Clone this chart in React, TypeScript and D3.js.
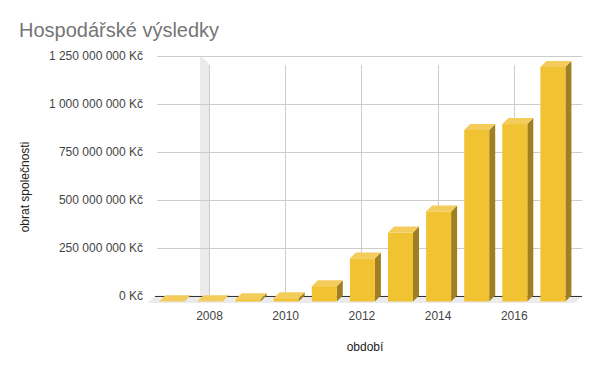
import React from "react";
import * as d3 from "d3";

const years = [2007, 2008, 2009, 2010, 2011, 2012, 2013, 2014, 2015, 2016, 2017];
const revenue = [1e6, 1e6, 12e6, 17e6, 80e6, 225e6, 360e6, 470e6, 895e6, 926e6, 1224e6];
const yTicks = [0, 250e6, 500e6, 750e6, 1000e6, 1250e6];
const xTickYears = [2008, 2010, 2012, 2014, 2016];
const title = "Hospodářské výsledky";
const xTitle = "období";
const yTitle = "obrat společnosti";

const W = 600, H = 371;
const DEPTH = 6;
const BAR_W = 25;
const FONT = "Arial, 'Liberation Sans', sans-serif";

function fmt(v: number) {
  const s = Math.round(v).toString().replace(/\B(?=(\d{3})+(?!\d))/g, " ");
  return s + " Kč";
}

export default function App() {
  const x = d3.scalePoint<number>().domain(years).range([171.9, 552.9]);
  const y = d3.scaleLinear().domain([0, 1.25e9]).range([295.5, 56]);
  const gridX0 = 157, gridX1 = 582;
  const frontBase = y(0) + DEPTH;

  return (
    <svg width={W} height={H} style={{ position: "absolute", left: 0, top: 0, background: "#fff" }}>
      <rect x={0} y={0} width={W} height={H} fill="#fff" />
      <text x={19} y={37} fontFamily={FONT} fontSize={20} fill="#757575">{title}</text>

      {/* floor */}
      <polygon
        points={`${gridX0 - 9},${frontBase + 1.5} ${gridX1 - 7},${frontBase + 1.5} ${gridX1},${y(0)} ${gridX0 - 2},${y(0)}`}
        fill="#ebebeb"
      />
      {/* left wall stripe */}
      <polygon points={`200,57 202,57 209,64 209,${frontBase + 1} 200,${frontBase + 1}`} fill="#ebebeb" />

      {/* horizontal gridlines */}
      {yTicks.map((t) => (
        <line key={t} x1={gridX0} x2={gridX1} y1={Math.round(y(t)) + 0.5} y2={Math.round(y(t)) + 0.5}
          stroke={t === 0 ? "#333" : "#cccccc"} strokeWidth={1} />
      ))}
      {/* vertical gridlines */}
      {xTickYears.map((yr) => (
        <line key={yr} x1={Math.round(x(yr)!) - 0.5} x2={Math.round(x(yr)!) - 0.5} y1={65} y2={y(0)}
          stroke="#cccccc" strokeWidth={1} />
      ))}
      {/* redraw baseline on top */}
      <line x1={155} x2={gridX1} y1={Math.round(y(0)) + 0.5} y2={Math.round(y(0)) + 0.5} stroke="#333" />

      {/* y labels */}
      {yTicks.map((t) => (
        <text key={t} x={143} y={y(t) + 4} textAnchor="end" fontFamily={FONT} fontSize={12} fill="#444">{fmt(t)}</text>
      ))}
      {/* x labels */}
      {xTickYears.map((yr) => (
        <text key={yr} x={x(yr)! - 0.5} y={320} textAnchor="middle" fontFamily={FONT} fontSize={12} fill="#444">{yr}</text>
      ))}

      {/* bars */}
      {years.map((yr, i) => {
        const cx = x(yr)!;
        const x0 = cx - BAR_W / 2, x1 = cx + BAR_W / 2;
        const yf = y(revenue[i]) + DEPTH;
        const yb = frontBase;
        return (
          <g key={yr}>
            <polygon points={`${x1},${yf} ${x1 + DEPTH},${yf - DEPTH} ${x1 + DEPTH},${yb - DEPTH} ${x1},${yb}`} fill="#a07f22" />
            <rect x={x0} y={yf} width={BAR_W} height={Math.max(0, yb - yf)} fill="#f1c232" />
            <polygon points={`${x0},${yf} ${x0 + DEPTH},${yf - DEPTH} ${x1 + DEPTH},${yf - DEPTH} ${x1},${yf}`} fill="#f3cc5c" />
          </g>
        );
      })}

      <text x={365} y={351} textAnchor="middle" fontFamily={FONT} fontSize={12} fill="#222">{xTitle}</text>
      <text transform={`translate(29,187) rotate(-90)`} textAnchor="middle" fontFamily={FONT} fontSize={12} fill="#222">{yTitle}</text>
    </svg>
  );
}
